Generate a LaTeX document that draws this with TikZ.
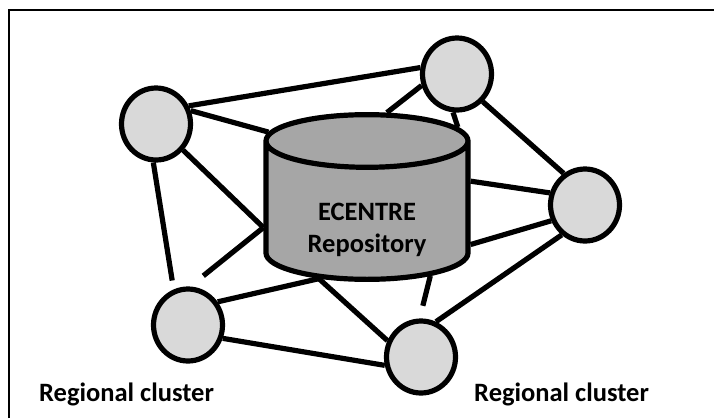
\documentclass[tikz,border=0pt]{standalone}
\usepackage{fontspec}
\setmainfont{Carlito}
\usepackage{tikz}
\usetikzlibrary{
  calc,
  shapes.geometric,
  backgrounds
}
\definecolor{clustergray}{RGB}{217,217,217}
\definecolor{repogray}{RGB}{166,166,166}

\begin{document}
\begin{tikzpicture}[
  x=1pt, y=-1pt,
  cluster/.style={draw, ellipse, line width=5.2pt, fill=clustergray,
               minimum width=69pt, minimum height=72pt, inner sep=0pt},
  repo/.style={draw, cylinder, shape border rotate=90, aspect=0.42,
               line width=5.2pt, fill=repogray, minimum width=202pt,
               minimum height=147pt, align=center,
               font=\bfseries\fontsize{26.5}{32}\selectfont},
  link/.style={line width=5.2pt},
  caption/.style={anchor=base west, inner sep=0pt,
               font=\bfseries\fontsize{26.5}{32}\selectfont}
]
  \useasboundingbox (0,0) rectangle (714,418);
  \draw[line width=2pt] (9,418) -- (9,10) -- (714,10);

  \node[repo, anchor=shape center] (repo) at (367,197)
    {\rule{0pt}{47pt}ECENTRE\\Repository};
  \node[cluster] (A) at (156,124) {};
  \node[cluster] (B) at (457,74) {};
  \node[cluster] (D) at (585,205) {};
  \node[cluster] (C) at (188,325) {};
  \node[cluster] (E) at (421,357) {};

  \node[caption] (capl) at (39,401) {Regional cluster};
  \node[caption] (capr) at (474,401) {Regional cluster};

  \begin{scope}[on background layer]
    \draw[link] (A.29) -- (B.170);
    \draw[link] (A.21) -- (repo.140);
    \draw[link] (A.316) -- (repo.187);
    \draw[link, shorten >=9pt] (A.266) -- (C.112);
    \draw[link, shorten >=17pt] (repo.187) -- (C.87);
    \draw[link] (B.198) -- (repo.79);
    \draw[link] (B.264) -- (repo.44);
    \draw[link] (B.313) -- (D.124);
    \draw[link] (repo.18) -- (D.161);
    \draw[link] (repo.344) -- (D.205);
    \draw[link] (D.232) -- (E.67);
    \draw[link, shorten >=13pt] (repo.316) -- (E.92);
    \draw[link] (repo.233) -- (E.154);
    \draw[link] (C.38) -- (repo.233);
    \draw[link] (C.339) -- (E.193);
  \end{scope}
\end{tikzpicture}
\end{document}
